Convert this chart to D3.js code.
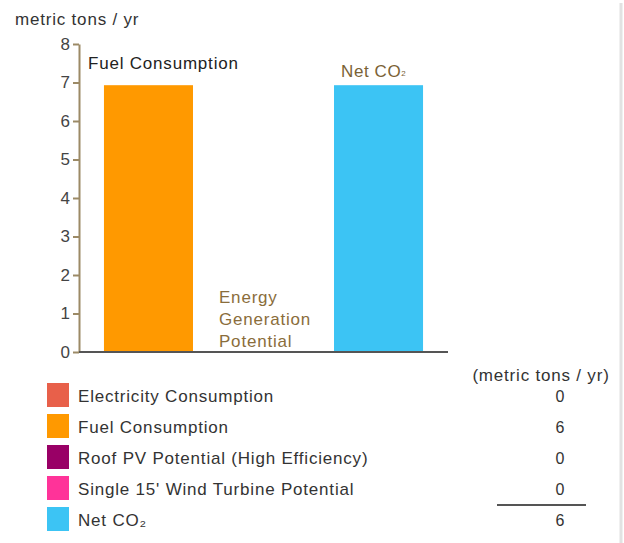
<!DOCTYPE html>
<html>
<head>
<meta charset="utf-8">
<script src="https://cdn.jsdelivr.net/npm/d3@7"></script>
<style>
  body { margin: 0; background: #fff; }
  text { font-family: "Liberation Sans", Arial, sans-serif; }
</style>
</head>
<body>
<svg id="chart" width="624" height="543"></svg>
<script>
// chart data
var categories = ["Fuel Consumption", "Energy Generation Potential", "Net CO2"];
var barValues = [6.93, 0, 6.93];
var barColors = ["#ff9900", "#ffffff", "#3cc4f4"];
var yTicks = [0, 1, 2, 3, 4, 5, 6, 7, 8];

// legend / table
var legendNames = ["Electricity Consumption", "Fuel Consumption", "Roof PV Potential (High Efficiency)", "Single 15' Wind Turbine Potential", "Net CO₂"];
var legendColors = ["#e8604a", "#ff9900", "#990066", "#ff3399", "#3cc4f4"];
var legendValues = [0, 6, 0, 0, 6];

var svg = d3.select("#chart");

var y = d3.scaleLinear().domain([0, 8]).range([352, 44]);
var x = d3.scaleBand()
    .domain(categories)
    .range([79, 448])
    .paddingInner(0.226)
    .paddingOuter(0.217);

// right panel border
svg.append("line")
    .attr("x1", 621).attr("x2", 621)
    .attr("y1", 3).attr("y2", 543)
    .attr("stroke", "#e2e2e2")
    .attr("stroke-width", 3);

// y title
svg.append("text")
    .attr("x", 15).attr("y", 25)
    .attr("font-size", 17)
    .attr("letter-spacing", 0.8)
    .attr("fill", "#333")
    .text("metric tons / yr");

// bars
svg.selectAll("rect.bar")
    .data(categories.map((c, i) => ({cat: c, v: barValues[i], color: barColors[i]})))
    .join("rect")
    .attr("class", "bar")
    .attr("x", d => x(d.cat))
    .attr("width", x.bandwidth())
    .attr("y", d => y(d.v))
    .attr("height", d => y(0) - y(d.v))
    .attr("fill", d => d.color);

// y axis
var yAxis = d3.axisLeft(y).tickValues(yTicks).tickSize(6).tickSizeOuter(0).tickPadding(3);
var gy = svg.append("g")
    .attr("transform", "translate(79,0)")
    .call(yAxis);
gy.select(".domain").attr("stroke", "#9c8a66").attr("stroke-width", 2);
gy.selectAll(".tick line").attr("stroke", "#9c8a66").attr("stroke-width", 2);
gy.selectAll(".tick text")
    .attr("font-size", 17)
    .attr("fill", "#444");

// baseline
svg.append("line")
    .attr("x1", 79).attr("x2", 448)
    .attr("y1", y(0)).attr("y2", y(0))
    .attr("stroke", "#555")
    .attr("stroke-width", 2);

// category labels
svg.append("text")
    .attr("x", x(categories[0]) - 16)
    .attr("y", y(barValues[0]) - 16)
    .attr("font-size", 17)
    .attr("letter-spacing", 0.8)
    .attr("fill", "#222")
    .text("Fuel Consumption");

var eg = svg.append("text")
    .attr("font-size", 17)
    .attr("letter-spacing", 0.8)
    .attr("fill", "#8a6d3b");
["Energy", "Generation", "Potential"].forEach((w, i) => {
    eg.append("tspan")
        .attr("x", x(categories[1]))
        .attr("y", 303 + i * 22)
        .text(w);
});

var co2 = svg.append("text")
    .attr("x", x(categories[2]) + 7)
    .attr("y", y(barValues[2]) - 8)
    .attr("font-size", 17)
    .attr("letter-spacing", 0.6)
    .attr("fill", "#7a6235");
co2.append("tspan").text("Net CO");
co2.append("tspan").attr("font-size", 8).attr("dy", -1).text("2");

// legend
var legend = svg.selectAll("g.legend")
    .data(legendNames.map((n, i) => ({name: n, color: legendColors[i], v: legendValues[i]})))
    .join("g")
    .attr("class", "legend")
    .attr("transform", (d, i) => `translate(0,${383 + i * 31})`);

legend.append("rect")
    .attr("x", 47).attr("y", 0)
    .attr("width", 22).attr("height", 24)
    .attr("fill", d => d.color);

legend.append("text")
    .attr("x", 78).attr("y", 19)
    .attr("font-size", 17)
    .attr("letter-spacing", 0.8)
    .attr("fill", "#333")
    .text(d => d.name);

legend.append("text")
    .attr("x", 560).attr("y", 19)
    .attr("text-anchor", "middle")
    .attr("font-size", 16)
    .attr("fill", "#333")
    .text(d => d.v);

svg.append("text")
    .attr("x", 541).attr("y", 381)
    .attr("text-anchor", "middle")
    .attr("font-size", 17)
    .attr("letter-spacing", 0.8)
    .attr("fill", "#333")
    .text("(metric tons / yr)");

// total line
svg.append("line")
    .attr("x1", 497).attr("x2", 586)
    .attr("y1", 505).attr("y2", 505)
    .attr("stroke", "#555")
    .attr("stroke-width", 2);
</script>
</body>
</html>
